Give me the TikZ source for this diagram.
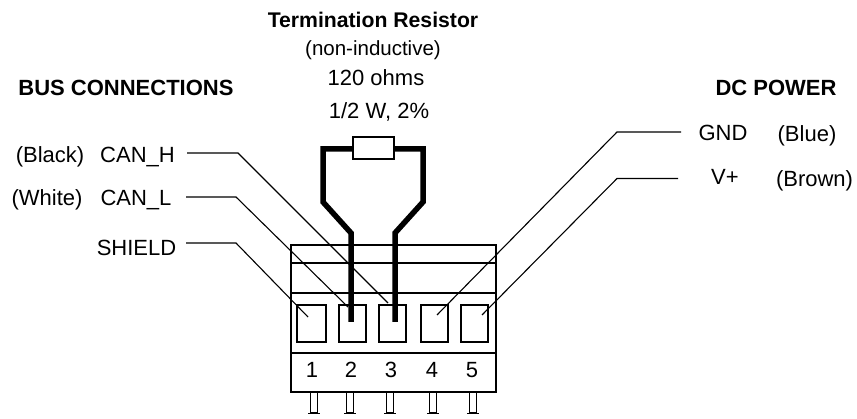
\documentclass[tikz,border=0pt]{standalone}
\usepackage{fontspec}
\setmainfont{Liberation Sans}
\usetikzlibrary{positioning,calc}

\begin{document}
\begin{tikzpicture}[x=1pt,y=-1pt]
    \tikzset{label/.style={inner sep=0pt, font=\fontsize{22}{26}\selectfont},
      heading/.style={inner sep=0pt, font=\fontsize{22}{26}\selectfont\bfseries},
      window/.style={draw, line width=1.4pt, inner sep=0pt, minimum height=37pt},
      leader/.style={draw, line width=1.1pt},
      wire/.style={draw, line width=5.5pt, miter limit=10},
      pin/.style={draw, line width=1.4pt, inner sep=0pt, minimum width=7pt, minimum height=21pt}
    }
    \useasboundingbox (0,0) rectangle (857,419);

    \node [heading, font=\fontsize{21.2}{26}\selectfont\bfseries] (title) at (373,20) {Termination Resistor};
    \node [label, font=\fontsize{20.5}{26}\selectfont] (kind) at (373,50) {(non-inductive)};
    \node [label] (ohms) at (376,78) {120 ohms};
    \node [label] (watts) at (379,111.5) {1/2 W, 2\%};

    \node [heading] (bus) at (126,88) {BUS CONNECTIONS};
    \node [heading] (power) at (776,88) {DC POWER};

    \node [label] (black) at (50,157) {(Black)};
    \node [label] (canh) at (137.5,157) {CAN\_H};
    \node [label] (white) at (47,200) {(White)};
    \node [label] (canl) at (136,200) {CAN\_L};
    \node [label] (shield) at (136.5,248) {SHIELD};
    \node [label] (gnd) at (723,133) {GND};
    \node [label] (blue) at (807,136) {(Blue)};
    \node [label] (vplus) at (725,177) {V+};
    \node [label] (brown) at (814.5,181) {(Brown)};

    % terminal block
    \draw [line width=1.4pt] (291,245) rectangle (496,392);
    \draw [line width=1.4pt] (291,263) -- (496,263)
      (291,293) -- (496,293)
      (291,353) -- (496,353);

    \foreach \name/\x/\w/\y in {1/311.5/29/312, 2/352.5/27/351, 3/392.5/27/391, 4/434.5/27/432, 5/474.5/27/472} {
      \node [window, minimum width=\w pt] (w\name) at (\x,323.5) {};
      \node [label] (n\name) at (\y,370) {\name};
    }
    \foreach \name/\x in {1/314, 2/350, 3/390, 4/433, 5/473} {
      \node [pin] (p\name) at (\x,402.5) {};
      \draw [line width=1.4pt] ($(p\name.south west)+(-1.5,0)$) -- ($(p\name.south east)+(1.5,0)$);
    }

    % resistor and its wires
    \node [draw, line width=1.4pt, inner sep=0pt, minimum width=41pt, minimum height=22pt] (res) at (373.5,148) {};
    \coordinate (a2) at (351,322);
    \coordinate (a3) at (395,322);
    \draw [wire] (res.west |- 0,149) -- (323,149) -- (323,202) -- (351,233) -- (a2);
    \draw [wire] (res.east |- 0,149) -- (423,149) -- (423,202) -- (395,233) -- (a3);

    % leaders
    \coordinate (e1) at (308,317);
    \coordinate (e2) at (348,307);
    \coordinate (e3) at (388,303);
    \coordinate (e4) at (437,315);
    \coordinate (e5) at (482,315);
    \coordinate (canhend) at (187,153);
    \coordinate (canlend) at (186,197);
    \coordinate (shieldend) at (186,243);
    \coordinate (gndend) at (681,132);
    \coordinate (vplusend) at (678,178.5);
    \draw [leader] (canhend) -- (238,153) -- (e3);
    \draw [leader] (canlend) -- (236,197) -- (e2);
    \draw [leader] (shieldend) -- (236,243) -- (e1);
    \draw [leader] (gndend) -- (617,132) -- (e4);
    \draw [leader] (vplusend) -- (617,178.5) -- (e5);
\end{tikzpicture}
\end{document}
